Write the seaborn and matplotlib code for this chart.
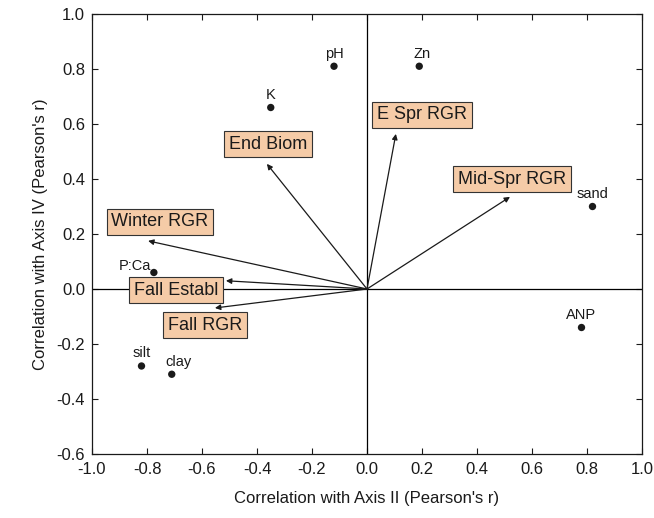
import matplotlib
matplotlib.use("Agg")
import matplotlib.pyplot as plt
import seaborn as sns
import pandas as pd

# Environmental variables (points)
env_names = ["pH", "Zn", "K", "sand", "P:Ca", "silt", "clay", "ANP"]
env_x = [-0.12, 0.19, -0.35, 0.82, -0.775, -0.82, -0.71, 0.78]
env_y = [0.81, 0.81, 0.66, 0.30, 0.06, -0.28, -0.31, -0.14]

# Response vectors (arrows)
vec_names = ["End Biom", "E Spr RGR", "Mid-Spr RGR", "Winter RGR", "Fall Establ", "Fall RGR"]
vec_x = [-0.364, 0.105, 0.52, -0.796, -0.513, -0.553]
vec_y = [0.455, 0.564, 0.335, 0.175, 0.03, -0.069]

# label placement (layout only)
vec_label_pos = [(-0.36, 0.527), (0.2, 0.633), (0.527, 0.40), (-0.753, 0.244), (-0.695, -0.004), (-0.589, -0.131)]
env_label_off = [(0, 4), (2, 4), (0, 4), (0, 4), (-2, 0), (0, 4), (5, 4), (0, 4)]
env_label_ha = ["center", "center", "center", "center", "right", "center", "center", "center"]

sns.set_theme(style="ticks")
plt.rcParams["font.family"] = ["Liberation Sans", "DejaVu Sans"]

fig = plt.figure(figsize=(6.54, 5.18), dpi=100)
ax = fig.add_axes([92 / 654, 1 - 454 / 518, 550 / 654, 440 / 518])

ax.axhline(0, color="black", lw=0.9, zorder=1)
ax.axvline(0, color="black", lw=0.9, zorder=1)

df = pd.DataFrame({"x": env_x, "y": env_y, "name": env_names})
sns.scatterplot(data=df, x="x", y="y", ax=ax, color="#1a1a1a", s=28, edgecolor="none", zorder=3, legend=False)

for n, x, y, off, ha in zip(env_names, env_x, env_y, env_label_off, env_label_ha):
    ax.annotate(n, (x, y), xytext=off, textcoords="offset points", ha=ha, va="bottom", fontsize=10.5, color="#1a1a1a")

for n, x, y, (lx, ly) in zip(vec_names, vec_x, vec_y, vec_label_pos):
    ax.annotate("", xy=(x, y), xytext=(0, 0),
                arrowprops=dict(arrowstyle="-|>", color="#1a1a1a", lw=0.9, mutation_scale=8, shrinkA=0, shrinkB=0))
    ax.text(lx, ly, n, ha="center", va="center", fontsize=13, color="#1a1a1a",
            bbox=dict(boxstyle="square,pad=0.25", facecolor="#F5CBA7", edgecolor="#333333", lw=0.8))

ax.set_xlim(-1.0, 1.0)
ax.set_ylim(-0.6, 1.0)
ax.set_xticks([-1.0, -0.8, -0.6, -0.4, -0.2, 0.0, 0.2, 0.4, 0.6, 0.8, 1.0])
ax.set_yticks([-0.6, -0.4, -0.2, 0.0, 0.2, 0.4, 0.6, 0.8, 1.0])
ax.xaxis.set_major_formatter(matplotlib.ticker.FormatStrFormatter("%.1f"))
ax.yaxis.set_major_formatter(matplotlib.ticker.FormatStrFormatter("%.1f"))
ax.tick_params(direction="in", length=4, width=0.8, labelsize=12, colors="#1a1a1a")
ax.tick_params(axis="x", pad=6)
ax.tick_params(axis="y", pad=5)
ax.tick_params(top=True, right=True, labeltop=False, labelright=False)
for s in ax.spines.values():
    s.set_linewidth(0.9)
    s.set_color("#1a1a1a")
ax.set_xlabel("Correlation with Axis II (Pearson's r)", fontsize=12, color="#1a1a1a", labelpad=10)
ax.set_ylabel("Correlation with Axis IV (Pearson's r)", fontsize=12, color="#1a1a1a", labelpad=6)

fig.savefig("out.png", dpi=100)
